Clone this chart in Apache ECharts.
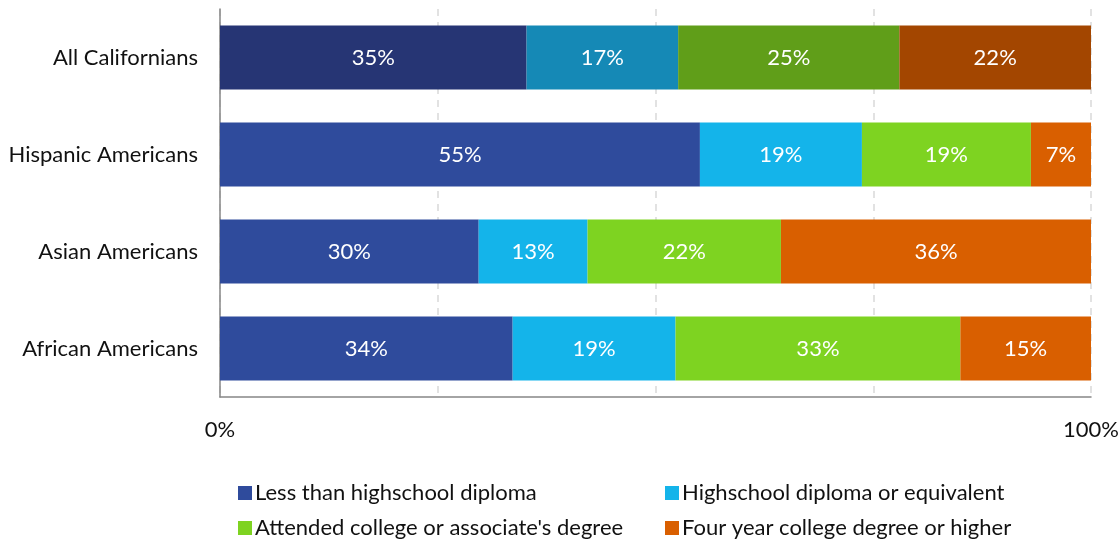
<!DOCTYPE html>
<html>
<head>
<meta charset="utf-8">
<script src="https://cdn.jsdelivr.net/npm/echarts@6/dist/echarts.min.js"></script>
<style>html,body{margin:0;padding:0;background:#fff}#c{width:1119px;height:540px}</style>
</head>
<body>
<div id="c"></div>
<script>
const categories = ["All Californians", "Hispanic Americans", "Asian Americans", "African Americans"];
const seriesNames = ["Less than highschool diploma", "Highschool diploma or equivalent", "Attended college or associate's degree", "Four year college degree or higher"];
const lessThanHS = [35.2, 55.1, 29.7, 33.6];
const hsDiploma = [17.4, 18.6, 12.5, 18.7];
const someCollege = [25.4, 19.4, 22.2, 32.7];
const fourYear = [22.0, 6.9, 35.6, 15.0];
const tickLabels = {0: "0%", 100: "100%"};

const colors = ["#2F4B9C", "#14B4EA", "#7ED321", "#D95F00"];
const darkColors = ["#263574", "#1589B6", "#609E19", "#A34600"];
const values = [lessThanHS, hsDiploma, someCollege, fourYear];
const font = "Lato, sans-serif";
const fs = 22;

const series = seriesNames.map((name, i) => ({
  name: name,
  type: 'bar',
  stack: 'total',
  barCategoryGap: '34%',
  itemStyle: { color: colors[i] },
  label: {
    show: true, position: 'inside', color: '#fff', fontSize: fs, fontFamily: font,
    formatter: p => Math.round(p.value) + '%'
  },
  data: values[i].map((v, j) => j === 0 ? { value: v, itemStyle: { color: darkColors[i] } } : v)
}));

const legendPos = [[238, 482], [665, 482], [238, 517], [665, 517]];
const legends = seriesNames.map((n, i) => ({
  data: [n], left: legendPos[i][0], top: legendPos[i][1],
  icon: 'rect', itemWidth: 14, itemHeight: 14, itemGap: 4,
  textStyle: { fontSize: fs, color: '#111', fontFamily: font, padding: [0,0,0,-2] },
  padding: 0, selectedMode: false
}));

const chart = echarts.init(document.getElementById('c'));
chart.setOption({
  animation: false,
  color: colors,
  legend: legends,
  grid: { left: 220, right: 28, top: 9, bottom: 143, outerBoundsMode: 'none', containLabel: false },
  xAxis: {
    type: 'value', min: 0, max: 100, interval: 25,
    axisLine: { show: true, lineStyle: { color: '#868686', width: 1.5 } },
    axisTick: { show: false },
    splitLine: { show: true, lineStyle: { color: '#d9d9d9', type: [7, 6], width: 1.5 } },
    axisLabel: { margin: 22, fontSize: fs, color: '#111', fontFamily: font,
      formatter: v => tickLabels[v] || '' }
  },
  yAxis: {
    type: 'category', data: categories, inverse: true,
    axisLine: { show: true, lineStyle: { color: '#868686', width: 1.5 } },
    axisTick: { show: false },
    axisLabel: { margin: 22, fontSize: fs, color: '#111', fontFamily: font }
  },
  series: series
});
</script>
</body>
</html>
